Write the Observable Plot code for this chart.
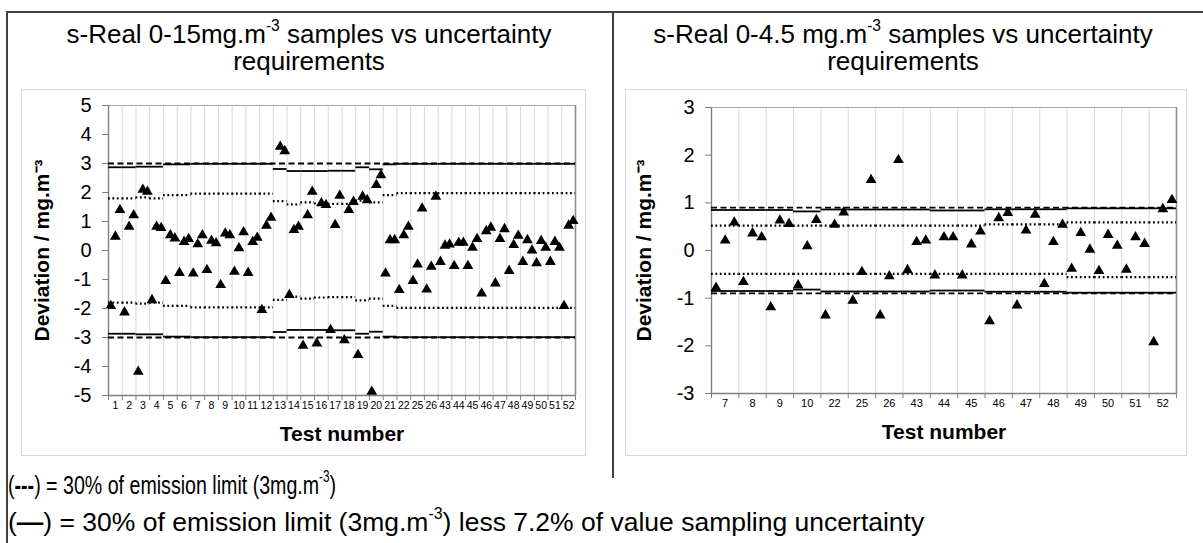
<!DOCTYPE html>
<html><head><meta charset="utf-8">
<script src="https://cdn.jsdelivr.net/npm/d3@7"></script>
<script src="https://cdn.jsdelivr.net/npm/@observablehq/plot@0.6"></script>
<style>
body{margin:0;background:#fff;font-family:Arial,"Liberation Sans",sans-serif;color:#000;}
#page{position:relative;width:1203px;height:543px;overflow:hidden;background:#fff;}
.bline{position:absolute;background:#404040;}
.title{position:absolute;text-align:center;font-size:26px;line-height:27px;white-space:nowrap;}
.frame{position:absolute;border:1px solid #d9d9d9;}
.frame svg{display:block;}
.note{position:absolute;left:8px;font-size:26.5px;line-height:28px;white-space:nowrap;transform-origin:0 50%;}
sup{font-size:0.6em;line-height:0;position:relative;top:-0.15em;vertical-align:super;}
</style></head>
<body><div id="page">
<div class="bline" style="left:6px;top:11px;width:1197px;height:1.5px"></div>
<div class="bline" style="left:6px;top:11px;width:1.5px;height:532px"></div>
<div class="bline" style="left:612px;top:11px;width:1.5px;height:467px"></div>
<div class="title" style="left:6px;width:606px;top:21px">s-Real 0-15mg.m<sup>-3</sup> samples vs uncertainty<br>requirements</div>
<div class="title" style="left:612px;width:582px;top:21px">s-Real 0-4.5 mg.m<sup>-3</sup> samples vs uncertainty<br>requirements</div>
<div class="frame" id="left" style="left:21px;top:89px"></div>
<div class="frame" id="right" style="left:625px;top:89px"></div>
<div class="note" style="top:471px;transform:scaleX(0.74)">(<b>---</b>) = 30% of emission limit (3mg.m<sup>-3</sup>)</div>
<div class="note" style="top:508px">(<b>&#8212;</b>) = 30% of emission limit (3mg.m<sup>-3</sup>) less 7.2% of value sampling uncertainty</div>
</div>
<script>
// ---------- data ----------
const samplesPerTest = 3;

const leftCats = ["1","2","3","4","5","6","7","8","9","10","11","12","13","14","15","16","17","18","19","20","21","22","25","26","43","44","45","46","47","48","49","50","51","52"];
const leftValues = [
  -1.91,0.48,1.40, -2.13,0.82,1.22, -4.18,2.10,2.03, -1.71,0.82,0.78,
  -1.05,0.53,0.42, -0.77,0.30,0.40, -0.79,0.22,0.53, -0.67,0.34,0.25,
  -1.19,0.59,0.53, -0.73,0.08,0.63, -0.77,0.30,0.44, -2.05,0.86,1.13,
  null,3.58,3.43, -1.53,0.71,0.82, -3.28,1.22,2.03, -3.20,1.63,1.57,
  -2.74,0.88,1.89, -3.09,1.40,1.68, -3.60,1.86,1.74, -4.87,2.26,2.60,
  -0.79,0.36,0.36, -1.36,0.53,0.82, -1.05,-0.48,1.45, -1.34,-0.56,1.86,
  -0.39,0.17,0.21, -0.53,0.27,0.27, -0.53,0.10,0.40, -1.48,0.67,0.79,
  -1.13,0.40,0.74, -0.70,0.19,0.51, -0.39,0.36,0.00, -0.44,0.33,0.10,
  -0.39,0.30,0.10, -1.91,0.86,1.02
];
const leftLimit = 3;
const leftSolid = [2.87,2.87,2.89,2.89,2.97,2.97,2.99,2.99,2.99,2.99,2.99,2.99,
  2.81,2.74,2.74,2.74,2.75,2.75,2.87,2.80,2.97,
  2.99,2.99,2.99,2.99,2.99,2.99,2.99,2.99,2.99,2.99,2.99,2.99,2.99];
const leftDotUpper = [1.80,1.80,1.83,1.80,1.91,1.91,1.96,1.96,1.96,1.96,1.96,1.96,
  1.70,1.59,1.66,1.62,1.61,1.61,1.72,1.66,1.91,
  1.98,1.98,1.98,1.98,1.98,1.98,1.98,1.98,1.98,1.98,1.98,1.98,1.98];
const leftDotLower = leftDotUpper;

const rightCats = ["7","8","9","10","22","25","26","43","44","45","46","47","48","49","50","51","52"];
const rightValues = [
  -0.78,0.21,0.59, -0.66,0.36,0.28, -1.19,0.63,0.56, -0.73,0.09,0.64,
  -1.36,0.54,0.80, -1.05,-0.45,1.48, -1.36,-0.54,1.90, -0.41,0.18,0.21,
  -0.52,0.28,0.28, -0.52,0.13,0.40, -1.48,0.68,0.79, -1.15,0.42,0.75,
  -0.70,0.18,0.54, -0.38,0.37,0.02, -0.43,0.33,0.10, -0.40,0.28,0.14,
  -1.92,0.87,1.06
];
const rightLimit = 0.9;
const rightSolid = [0.85,0.85,0.85,0.82,0.86,0.86,0.86,0.86,0.84,0.84,0.865,0.865,0.865,0.885,0.885,0.885,0.885];
const rightDotUpper = [0.52,0.52,0.52,0.52,0.52,0.52,0.52,0.52,0.52,0.52,0.55,0.55,0.55,0.59,0.59,0.59,0.59];
const rightDotLower = [0.49,0.49,0.49,0.49,0.49,0.49,0.49,0.49,0.49,0.49,0.49,0.49,0.49,0.56,0.56,0.56,0.56];

const yLabel = "Deviation / mg.m\u207B\u00B3";
const xLabel = "Test number";

// ---------- chart ----------
function chart(o) {
  const n = o.cats.length;
  const pts = o.values.map((v, i) => ({
    x: Math.floor(i / samplesPerTest) + ((i % samplesPerTest) + 0.5) / samplesPerTest,
    y: v
  })).filter(d => d.y != null);
  const segs = o.cats.map((c, i) => ({x1: i, x2: i + 1, s: o.solid[i], du: o.dotUp[i], dl: o.dotLow[i]}));
  const yt = d3.range(o.yMin, o.yMax + 1);
  const dotStyle = {x1: "x1", x2: "x2", stroke: "#000", strokeWidth: 2.2, strokeDasharray: "1.8,2.6"};
  const solidStyle = {x1: "x1", x2: "x2", stroke: "#000", strokeWidth: 1.8};
  return Plot.plot({
    width: o.width, height: o.height,
    marginLeft: o.ml, marginRight: o.mr, marginTop: o.mt, marginBottom: o.mb,
    style: {fontFamily: "Arial, 'Liberation Sans', sans-serif", color: "#000", background: "transparent", overflow: "visible"},
    x: {domain: [0, n]},
    y: {domain: [o.yMin, o.yMax]},
    marks: [
      Plot.ruleX(d3.range(1, n), {stroke: "#d9d9d9", strokeWidth: 1}),
      Plot.ruleY([o.yMax], {stroke: "#a6a6a6", strokeWidth: 1.2}),
      Plot.ruleX([n], {stroke: "#8c8c8c", strokeWidth: 1.6}),
      Plot.ruleX([0], {stroke: "#7f7f7f", strokeWidth: 1.4}),
      Plot.ruleY([o.yMin], {stroke: "#7f7f7f", strokeWidth: 1.4}),
      Plot.ruleY([o.limit, -o.limit], {stroke: "#000", strokeWidth: 1.8, strokeDasharray: "6,3.5"}),
      Plot.ruleY(segs, {...solidStyle, y: "s"}),
      Plot.ruleY(segs, {...solidStyle, y: d => -d.s}),
      Plot.ruleY(segs, {...dotStyle, y: "du"}),
      Plot.ruleY(segs, {...dotStyle, y: d => -d.dl}),
      Plot.dot(pts, {x: "x", y: "y", symbol: "triangle", fill: "#000", r: 4}),
      Plot.axisY({ticks: yt, tickSize: 6, fill: "none", stroke: "#7f7f7f", label: null}),
      Plot.text(yt, {y: d => d, frameAnchor: "left", textAnchor: "end", dx: -17, text: d => String(d), fontSize: 20, fill: "#000"}),
      Plot.axisX({ticks: d3.range(0, n + 1), tickSize: 5, fill: "none", stroke: "#7f7f7f", label: null}),
      Plot.text(o.cats, {x: (d, i) => i + 0.5, frameAnchor: "bottom", dy: 13, text: d => d, fontSize: o.xFont, fill: "#000"}),
      Plot.text([yLabel], {frameAnchor: "left", textAnchor: "middle", rotate: -90, dx: o.ylDx, fontSize: 21, fontWeight: "bold", fill: "#000"}),
      Plot.text([xLabel], {frameAnchor: "bottom", textAnchor: "middle", dy: 45, fontSize: 21, fontWeight: "bold", fill: "#000"})
    ]
  });
}

document.getElementById("left").append(chart({
  cats: leftCats, values: leftValues, solid: leftSolid, dotUp: leftDotUpper, dotLow: leftDotLower,
  limit: leftLimit, yMin: -5, yMax: 5, width: 563, height: 365, ml: 86, mr: 10, mt: 15, mb: 60, ylDx: -66, xFont: 10.5
}));
document.getElementById("right").append(chart({
  cats: rightCats, values: rightValues, solid: rightSolid, dotUp: rightDotUpper, dotLow: rightDotLower,
  limit: rightLimit, yMin: -3, yMax: 3, width: 560, height: 365, ml: 85, mr: 10, mt: 17, mb: 62, ylDx: -67, xFont: 11
}));
</script>
</body></html>
